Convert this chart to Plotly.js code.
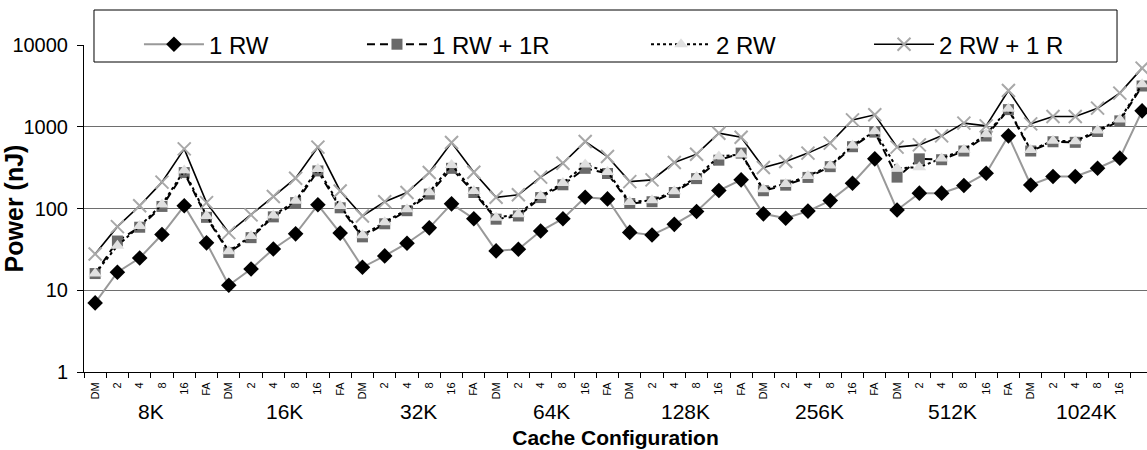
<!DOCTYPE html>
<html>
<head>
<meta charset="utf-8">
<script src="https://cdn.plot.ly/plotly-3.0.1.min.js"></script>
<style>
  html, body { margin: 0; padding: 0; background: #fff; }
  #chart { width: 1147px; height: 450px; }
</style>
</head>
<body>
<div id="chart"></div>
<script>
// ---- data ----
const cacheSizes = ["8K", "16K", "32K", "64K", "128K", "256K", "512K", "1024K"];
const associativities = ["DM", "2", "4", "8", "16", "FA"];

const power1RW = [7, 16.6, 24.8, 48, 108, 38, 11.5, 18.2,
  32, 49, 111, 50, 19.1, 26.3, 37.6, 58,
  114, 75, 30.3, 31.8, 53, 75, 137, 131,
  51, 47.5, 64, 92, 166, 224, 86, 76,
  93, 125, 204, 405, 96, 154, 154, 191,
  270, 774, 194, 246, 246, 311, 413, 1566];

const power1RW1R = [16, 40, 59, 106, 275, 78, 29, 44,
  79, 118, 288, 102, 45, 65, 94, 150,
  310, 157, 74, 81, 136, 195, 310, 268,
  115, 121, 157, 232, 390, 476, 165, 193,
  240, 325, 570, 860, 242, 405, 395, 505,
  770, 1620, 505, 655, 645, 875, 1180, 3150];

const power2RW = [16, 35, 61, 112, 292, 81, 30, 46,
  82, 124, 305, 107, 47, 68, 98, 158,
  340, 164, 77, 85, 142, 205, 345, 280,
  120, 126, 163, 242, 432, 457, 172, 200,
  250, 335, 590, 880, 311, 320, 410, 525,
  810, 1660, 520, 672, 665, 900, 1230, 3300];

const power2RW1R = [27.8, 60, 108, 210, 536, 118, 50.7, 83.5,
  140, 235, 563, 164, 81, 121, 157, 275,
  641, 278, 137, 147, 242, 358, 659, 432,
  213, 224, 365, 462, 834, 745, 317, 375,
  476, 630, 1214, 1400, 563, 600, 774, 1107,
  1026, 2773, 1085, 1333, 1333, 1688, 2577, 5212];

const yTickVals = [1, 10, 100, 1000, 10000];
const yTickText = ["1", "10", "100", "1000", "10000"];

// ---- derived ----
const tickLabels = [];
cacheSizes.forEach(() => associativities.forEach(a => tickLabels.push(a)));
const xIdx = tickLabels.map((_, i) => i);
const boundaries = xIdx.map(i => i - 0.5).concat([tickLabels.length - 0.5]);

const FONT = "Liberation Sans, Arial, Helvetica, sans-serif";

const traces = [
  {
    name: "1 RW", legend: "legend", x: xIdx, y: power1RW, type: "scatter", mode: "lines+markers",
    line: { color: "#999999", width: 2 },
    marker: { symbol: "diamond", size: 12, color: "#000000", line: { width: 0 } }
  },
  {
    name: "1 RW + 1R", legend: "legend2", x: xIdx, y: power1RW1R, type: "scatter", mode: "lines+markers",
    line: { color: "#000000", width: 2, dash: "8px,5px" },
    marker: { symbol: "square", size: 11, color: "#6a6a6a", line: { width: 0 } }
  },
  {
    name: "2 RW", legend: "legend3", x: xIdx, y: power2RW, type: "scatter", mode: "lines+markers",
    line: { color: "#000000", width: 2, dash: "3px,3px" },
    marker: { symbol: "triangle-up", size: 12, color: "#e0e0e0", line: { width: 0 } }
  },
  {
    name: "2 RW + 1 R", legend: "legend4", x: xIdx, y: power2RW1R, type: "scatter", mode: "lines+markers",
    line: { color: "#000000", width: 1.6 },
    marker: { symbol: "x-thin", size: 13, color: "#a8a8a8", line: { color: "#a8a8a8", width: 2 } }
  }
];

const annotations = cacheSizes.map((s, g) => ({
  text: s, x: g * associativities.length + (associativities.length - 1) / 2,
  xref: "x", y: 0, yref: "paper", yanchor: "top", xanchor: "center",
  yshift: -26, showarrow: false, font: { family: FONT, size: 21, color: "#000" }
}));

function legendAt(xPos) {
  return {
    orientation: "h", x: xPos, y: 1.07, xanchor: "left", yanchor: "top",
    bgcolor: "rgba(0,0,0,0)", borderwidth: 0,
    font: { family: FONT, size: 24, color: "#000" },
    itemwidth: 60
  };
}

const layout = {
  width: 1147, height: 450,
  margin: { l: 84, r: 0, t: 45, b: 78 },
  paper_bgcolor: "#ffffff", plot_bgcolor: "#ffffff",
  font: { family: FONT, color: "#000" },
  showlegend: true,
  legend: legendAt(0.0517),
  legend2: legendAt(0.2615),
  legend3: legendAt(0.5287),
  legend4: legendAt(0.7385),
  shapes: [{
    type: "rect", xref: "paper", yref: "paper",
    x0: 0.0094, x1: 0.9718, y0: 0.948, y1: 1.107,
    fillcolor: "#ffffff", line: { color: "#000000", width: 1 }, layer: "above"
  }],
  xaxis: {
    range: [-0.5, 47.22],
    tickmode: "array", tickvals: xIdx, ticktext: tickLabels,
    tickangle: -90, tickfont: { family: FONT, size: 11, color: "#000" },
    ticks: "outside", ticklen: 0, ticklabelstandoff: 5,
    minor: { tickmode: "array", tickvals: boundaries, ticks: "outside", ticklen: 5, tickcolor: "#000", tickwidth: 1, showgrid: false },
    showline: true, linecolor: "#000", linewidth: 1,
    showgrid: false, zeroline: false,
    title: { text: "<b>Cache Configuration</b>", font: { family: FONT, size: 21, color: "#000" }, standoff: 31 }
  },
  yaxis: {
    type: "log", range: [0, 4],
    tickmode: "array", tickvals: yTickVals, ticktext: yTickText,
    tickfont: { family: FONT, size: 20, color: "#000" },
    ticks: "outside", ticklen: 6, tickcolor: "#000", ticklabelstandoff: 5,
    showline: true, linecolor: "#000", linewidth: 1,
    showgrid: true, gridcolor: "#6e6e6e", gridwidth: 1, zeroline: false,
    title: { text: "<b>Power (nJ)</b>", font: { family: FONT, size: 25, color: "#000" }, standoff: 4 }
  },
  annotations: annotations
};

Plotly.newPlot("chart", traces, layout, { displayModeBar: false, staticPlot: true });
</script>
</body>
</html>
